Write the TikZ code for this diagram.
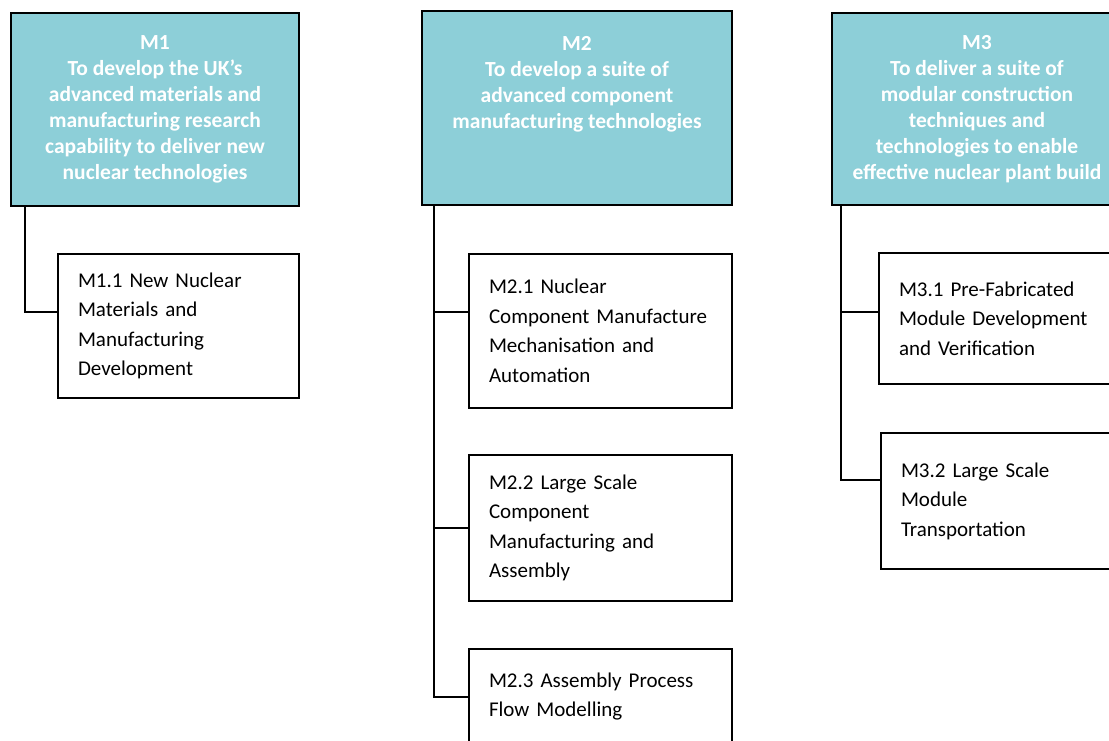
\documentclass[tikz,border=0pt]{standalone}
\usepackage{fontspec}
\setmainfont{Carlito}
\usepackage{tikz}
\usetikzlibrary{positioning}
\definecolor{aimfill}{RGB}{141,207,216}

\begin{document}
\begin{tikzpicture}[x=1pt, y=-1pt,
        aim/.style={draw, rectangle, fill=aimfill, line width=2pt, anchor=north west,
                    align=center, text=white, font=\fontsize{21.5}{26}\selectfont\bfseries},
        task/.style={draw, rectangle, fill=white, line width=2pt, anchor=north west,
                     align=left, inner xsep=20pt, font=\fontsize{21}{29.5}\selectfont},
        link/.style={line width=2pt}
    ]
        \path[use as bounding box, clip] (0,0) rectangle (1109,740);

        % aims
        \node[aim, minimum width=288pt, minimum height=193pt] (m1) at (10,12)
            {M1\\To develop the UK’s\\advanced materials and\\manufacturing research\\capability to deliver new\\nuclear technologies};
        \node[aim, minimum width=310pt, minimum height=194pt] (m2) at (421,10)
            {M2\\To develop a suite of\\advanced component\\manufacturing technologies\\\mbox{}\\\mbox{}};
        \node[aim, minimum width=290pt, minimum height=192pt] (m3) at (831,12)
            {M3\\To deliver a suite of\\modular construction\\techniques and\\technologies to enable\\effective nuclear plant build};

        % work packages
        \node[task, text width=201pt, minimum height=144pt] (m11) at (57,253)
            {M1.1 New Nuclear\\Materials and\\Manufacturing\\Development};
        \node[task, text width=223pt, minimum height=154pt] (m21) at (468,253)
            {M2.1 Nuclear\\Component Manufacture\\Mechanisation and\\Automation};
        \node[task, text width=223pt, minimum height=146pt] (m22) at (468,454)
            {M2.2 Large Scale\\Component\\Manufacturing and\\Assembly};
        \node[task, text width=223pt, minimum height=150pt] (m23) at (468,648)
            {M2.3 Assembly Process\\Flow Modelling\\\mbox{}\\\mbox{}};
        \node[task, text width=223pt, minimum height=131pt] (m31) at (878,252)
            {M3.1 Pre-Fabricated\\Module Development\\and Verification};
        \node[task, text width=223pt, minimum height=136pt] (m32) at (880,432)
            {M3.2 Large Scale\\Module\\Transportation};

        \draw[link] (m1.south west) ++(15,0) |- ([yshift=14pt]m11.west);
        \draw[link] (m2.south west) ++(13,0) |- ([yshift=19pt]m21.west);
        \draw[link] (m2.south west) ++(13,0) |- (m22.west);
        \draw[link] (m2.south west) ++(13,0) |- ([yshift=27pt]m23.west);
        \draw[link] (m3.south west) ++(10,0) |- ([yshift=6.5pt]m31.west);
        \draw[link] (m3.south west) ++(10,0) |- ([yshift=21pt]m32.west);
    \end{tikzpicture}
\end{document}
